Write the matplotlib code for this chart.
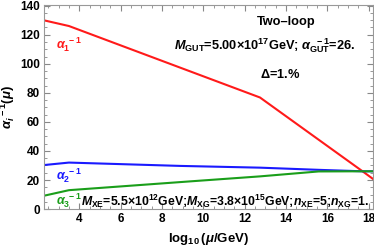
import matplotlib.pyplot as plt
from matplotlib.ticker import MultipleLocator

# Dados (log10(mu/GeV), alpha_i^-1)
mu1 = [2.3, 3.5, 12.74, 17.7, 18.2]
a1 = [129.9, 126.0, 76.8, 26.0, 20.8]

mu2 = [2.3, 3.5, 8.9, 12.74, 15.58, 17.7, 18.2]
a2 = [30.3, 32.0, 29.7, 28.5, 27.0, 26.0, 26.0]

mu3 = [2.3, 3.5, 9.4, 12.74, 15.58, 17.7, 18.2]
a3 = [9.2, 13.0, 19.1, 22.5, 25.9, 26.0, 26.0]

plt.rcParams['mathtext.fontset'] = 'custom'
plt.rcParams['mathtext.rm'] = 'Liberation Sans:bold'
plt.rcParams['mathtext.it'] = 'Liberation Sans:bold:italic'
plt.rcParams['mathtext.bf'] = 'Liberation Sans:bold'
plt.rcParams['font.family'] = 'Liberation Sans'
plt.rcParams['font.weight'] = 'bold'

fig = plt.figure(figsize=(3.74, 2.48), dpi=100)
ax = fig.add_axes([0.118, 0.157, 0.879, 0.823])

ax.plot(mu1, a1, color='#ff1a1a', lw=1.5)
ax.plot(mu2, a2, color='#1a1aff', lw=1.5)
ax.plot(mu3, a3, color='#1a9e1a', lw=1.5)

ax.set_xlim(2.3, 18.2)
ax.set_ylim(0, 140.5)
ax.xaxis.set_major_locator(MultipleLocator(2))
ax.xaxis.set_minor_locator(MultipleLocator(0.5))
ax.yaxis.set_major_locator(MultipleLocator(20))
ax.yaxis.set_minor_locator(MultipleLocator(5))
ax.tick_params(which='both', direction='in', top=True, right=True, color='#888888',
               labelsize=8.5, pad=3)
ax.tick_params(which='major', length=4)
ax.tick_params(which='minor', length=2)
for s in ax.spines.values():
    s.set_color('#999999')
for lab in ax.get_xticklabels() + ax.get_yticklabels():
    lab.set_fontweight('bold')

ax.set_xlabel(r'$\log_{10}(\mu/\mathrm{GeV})$', fontsize=9.5)
ax.set_ylabel(r'$\alpha_i^{\ -1}(\mu)$', fontsize=9.5, labelpad=2)

# Textos
ax.text(0.737, 0.917, 'Two\u2013loop', transform=ax.transAxes, ha='center', va='center', fontsize=9.2)
ax.text(0.67, 0.80, r'$M_{\mathrm{GUT}}$=5.00$\times$10$^{17}$GeV; $\alpha_{\mathrm{GUT}}^{\ \ -1}$=26.',
        transform=ax.transAxes, ha='center', va='center', fontsize=9.2)
ax.text(0.717, 0.657, r'$\Delta$=1.%', transform=ax.transAxes, ha='center', va='center', fontsize=9.2)
ax.text(2.85, 113, r'$\alpha_1^{\ -1}$', color='#ff1a1a', fontsize=9, va='center')
ax.text(2.85, 23, r'$\alpha_2^{\ -1}$', color='#1a1aff', fontsize=9, va='center')
ax.text(2.85, 5.5, r'$\alpha_3^{\ -1}$', color='#1a9e1a', fontsize=9, va='center')
ax.text(4.1, 5.5, r'$M_{\mathrm{XE}}$=5.5$\times$10$^{12}$GeV;$M_{\mathrm{XG}}$=3.8$\times$10$^{15}$GeV;$n_{\mathrm{XE}}$=5;$n_{\mathrm{XG}}$=1.',
        fontsize=8.8, va='center')

plt.savefig('out.png', dpi=100)
